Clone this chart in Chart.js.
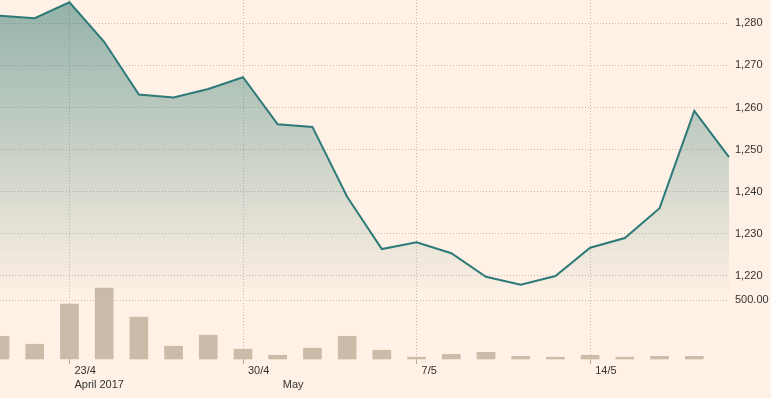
<!DOCTYPE html>
<html>
<head>
<meta charset="utf-8">
<script src="https://cdn.jsdelivr.net/npm/chart.js@4.4.1/dist/chart.umd.min.js"></script>
<style>
  html, body { margin: 0; padding: 0; background: #fff1e5; }
  #wrap { width: 771px; height: 398px; position: relative; }
</style>
</head>
<body>
<div id="wrap"><canvas id="c"></canvas></div>
<script>
// Trading-day categories
const dates = ['20/4','21/4','24/4','25/4','26/4','27/4','28/4','1/5','2/5','3/5','4/5',
               '5/5','8/5','9/5','10/5','11/5','12/5','15/5','16/5','17/5','18/5','19/5'];
// Index level (close)
const prices = [1281.8, 1281.2, 1285.0, 1275.6, 1263.1, 1262.4, 1264.4, 1267.2, 1256.0, 1255.4, 1238.8,
                1226.4, 1228.0, 1225.4, 1219.8, 1217.9, 1220.0, 1226.7, 1229.0, 1236.1, 1259.2, 1248.2];
// Volume
const volumes = [194, 126, 468, 605, 357, 109, 203, 83, 32, 92, 194,
                 75, 15, 40, 57, 23, 15, 32, 15, 23, 23, null];
// Axis ticks
const priceTicks = [1220, 1230, 1240, 1250, 1260, 1270, 1280];
const volumeTicks = [500];
const dayTickIndex = [2, 7, 12, 17];
const dayTickLabels = ['23/4', '30/4', '7/5', '14/5'];
const monthTickIndex = [2, 8];
const monthTickLabels = ['April 2017', 'May'];

const gridColor = '#c9bdaf';
const textColor = '#333333';
const font = { family: '"Liberation Sans", Arial, sans-serif', size: 11 };

function fillGradient(context) {
  const chart = context.chart;
  const area = chart.chartArea;
  if (!area) return 'rgba(40,115,110,0.3)';
  const g = chart.ctx.createLinearGradient(0, area.top, 0, area.top + 300);
  g.addColorStop(0, 'rgba(40,115,110,0.5)');
  g.addColorStop(1, 'rgba(40,115,110,0)');
  return g;
}

function noPad(s) { s.paddingTop = 0; s.paddingBottom = 0; s.paddingLeft = 0; s.paddingRight = 0; }

new Chart(document.getElementById('c'), {
  type: 'line',
  data: {
    labels: dates,
    datasets: [
      {
        type: 'line',
        data: prices,
        xAxisID: 'x',
        yAxisID: 'y',
        borderColor: '#2d7a78',
        borderWidth: 2,
        pointRadius: 0,
        tension: 0,
        fill: 'start',
        backgroundColor: fillGradient,
        order: 1
      },
      {
        type: 'bar',
        data: volumes,
        xAxisID: 'x',
        yAxisID: 'yv',
        backgroundColor: '#cbbba8',
        barThickness: 18,
        clip: false,
        order: 2
      }
    ]
  },
  options: {
    responsive: true,
    maintainAspectRatio: false,
    animation: false,
    layout: { padding: 0 },
    plugins: { legend: { display: false }, tooltip: { enabled: false } },
    scales: {
      x: {
        type: 'category',
        position: 'bottom',
        weight: 0,
        offset: false,
        afterBuildTicks: (s) => { s.ticks = s.ticks.filter(t => dayTickIndex.includes(t.value)); },
        afterFit: (s) => { s.height = 19; noPad(s); },
        ticks: {
          autoSkip: false, maxRotation: 0, align: 'start', labelOffset: 5, padding: 0,
          color: textColor, font: font,
          callback: (v) => dayTickLabels[dayTickIndex.indexOf(v)]
        },
        grid: { color: gridColor, drawTicks: true, tickLength: 5, tickColor: '#b5aa9c', tickBorderDash: [], offset: false },
        border: { display: false, dash: [1, 2] }
      },
      x2: {
        type: 'category',
        position: 'bottom',
        weight: 1,
        offset: false,
        afterBuildTicks: (s) => { s.ticks = s.ticks.filter(t => monthTickIndex.includes(t.value)); },
        afterFit: (s) => { s.height = 20; noPad(s); },
        ticks: {
          autoSkip: false, maxRotation: 0, align: 'start', labelOffset: 5, padding: 0,
          color: textColor, font: font,
          callback: (v) => monthTickLabels[monthTickIndex.indexOf(v)]
        },
        grid: { display: false, drawTicks: false },
        border: { display: false }
      },
      y: {
        type: 'linear',
        position: 'right',
        weight: 0,
        stack: 'right',
        stackWeight: 300,
        min: 1214.3,
        max: 1285.53,
        afterBuildTicks: (s) => { s.ticks = priceTicks.map(v => ({ value: v })); },
        afterFit: (s) => { s.width = 42; noPad(s); },
        ticks: { color: textColor, font: font, padding: 6, callback: (v) => Number(v).toLocaleString('en-US') },
        grid: { color: gridColor, drawTicks: false },
        border: { display: false, dash: [1, 2] }
      },
      yv: {
        type: 'linear',
        position: 'right',
        weight: 1,
        stack: 'right',
        stackWeight: 59,
        min: 0,
        max: 503,
        afterBuildTicks: (s) => { s.ticks = volumeTicks.map(v => ({ value: v })); },
        afterFit: (s) => { s.width = 42; noPad(s); },
        ticks: { color: textColor, font: font, padding: 6, callback: (v) => Number(v).toFixed(2) },
        grid: { color: gridColor, drawTicks: false },
        border: { display: false, dash: [1, 2] }
      }
    }
  }
});
</script>
</body>
</html>
